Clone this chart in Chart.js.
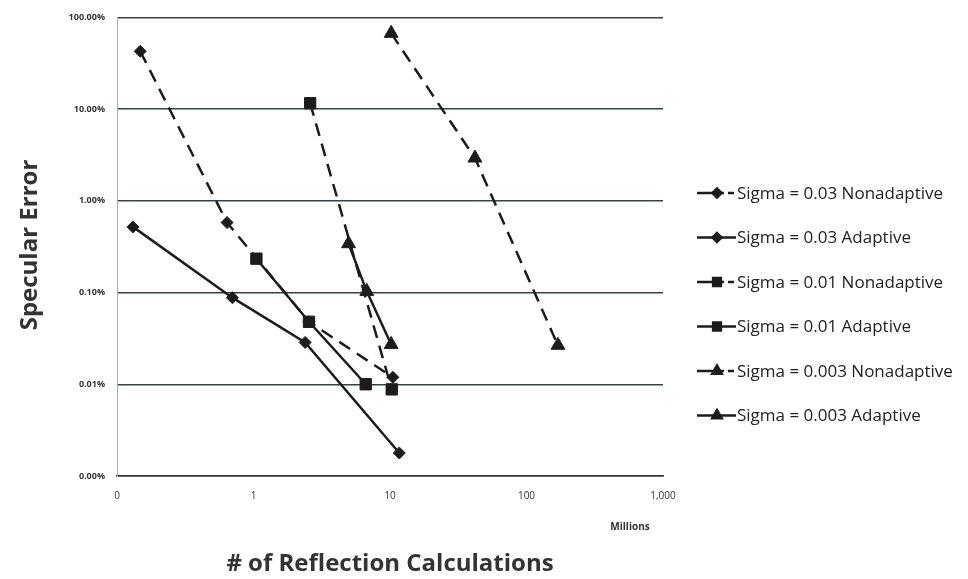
<!DOCTYPE html>
<html>
<head>
<meta charset="utf-8">
<script src="https://cdn.jsdelivr.net/npm/chart.js@4.4.0/dist/chart.umd.min.js"></script>
<style>
  html, body { margin: 0; padding: 0; background: #fff; }
  #wrap { width: 968px; height: 579px; position: relative; }
</style>
</head>
<body>
<div id="wrap"><canvas id="chart" width="968" height="579"></canvas></div>
<script>
// Specular error vs # of reflection calculations (millions), log-log
const seriesNames = [
  'Sigma = 0.03 Nonadaptive',
  'Sigma = 0.03 Adaptive',
  'Sigma = 0.01 Nonadaptive',
  'Sigma = 0.01 Adaptive',
  'Sigma = 0.003 Nonadaptive',
  'Sigma = 0.003 Adaptive'
];

// x in millions, y in percent
const s03NonX = [0.148, 0.64, 2.55, 10.5];
const s03NonY = [42.7, 0.58, 0.048, 0.0119];
const s03AdX = [0.131, 0.70, 2.39, 11.7];
const s03AdY = [0.52, 0.088, 0.0286, 0.00178];
const s01NonX = [2.60, 10.3];
const s01NonY = [11.6, 0.0088];
const s01AdX = [1.05, 2.55, 6.64];
const s01AdY = [0.234, 0.048, 0.0100];
const s003NonX = [10.2, 41.9, 170];
const s003NonY = [67, 2.93, 0.0266];
const s003AdX = [4.97, 6.76, 10.2];
const s003AdY = [0.341, 0.103, 0.0272];

const xTickValues = [0.1, 1, 10, 100, 1000];
const xTickLabels = ['0', '1', '10', '100', '1,000'];
const yTickValues = [0.001, 0.01, 0.1, 1, 10, 100];
const yTickLabels = ['0.00%', '0.01%', '0.10%', '1.00%', '10.00%', '100.00%'];

const ink = '#1c1c1c';
const dashPat = [13, 8];

function pts(xs, ys) {
  return xs.map((x, i) => ({ x: x, y: ys[i] }));
}

function makeSet(idx, xs, ys, style, dashed, radius, order) {
  return {
    label: seriesNames[idx],
    data: pts(xs, ys),
    borderColor: ink,
    backgroundColor: ink,
    borderWidth: 2.5,
    borderDash: dashed ? dashPat : [],
    pointStyle: style,
    pointRadius: radius,
    pointBackgroundColor: ink,
    pointBorderColor: ink,
    pointBorderWidth: 1,
    tension: 0,
    fill: false,
    order: order
  };
}

const datasets = [
  makeSet(0, s03NonX, s03NonY, 'rectRot', true, 6, 1),
  makeSet(1, s03AdX, s03AdY, 'rectRot', false, 6, 1),
  makeSet(2, s01NonX, s01NonY, 'rect', true, 8, 1),
  makeSet(3, s01AdX, s01AdY, 'rect', false, 8, 1),
  makeSet(4, s003NonX, s003NonY, 'triangle', true, 8, 0),
  makeSet(5, s003AdX, s003AdY, 'triangle', false, 8, 0)
];

// texts + legend drawn on the canvas
const extrasPlugin = {
  id: 'extras',
  afterDraw(chart) {
    const ctx = chart.ctx;
    ctx.save();
    ctx.fillStyle = '#333';
    // y title
    ctx.font = 'bold 24px "Open Sans", sans-serif';
    ctx.textAlign = 'center';
    ctx.textBaseline = 'middle';
    ctx.translate(30, 245);
    ctx.rotate(-Math.PI / 2);
    ctx.fillText('Specular Error', 0, 0);
    ctx.restore();

    ctx.save();
    ctx.fillStyle = '#333';
    ctx.textAlign = 'center';
    ctx.textBaseline = 'middle';
    ctx.font = 'bold 24px "Open Sans", sans-serif';
    ctx.fillText('# of Reflection Calculations', 390, 564);
    ctx.font = 'bold 10px "Open Sans", sans-serif';
    ctx.fillText('Millions', 630, 527);

    // legend
    ctx.font = '17px "Open Sans", sans-serif';
    ctx.textAlign = 'left';
    chart.data.datasets.forEach((ds, i) => {
      const y = 193 + i * 44.5;
      ctx.strokeStyle = ink;
      ctx.lineWidth = 2.5;
      ctx.beginPath();
      if (ds.borderDash.length) {
        ctx.moveTo(697, y);
        ctx.lineTo(724, y);
        ctx.moveTo(728, y);
        ctx.lineTo(734, y);
      } else {
        ctx.moveTo(697, y);
        ctx.lineTo(736, y);
      }
      ctx.stroke();
      Chart.helpers.drawPoint(ctx, {
        pointStyle: ds.pointStyle,
        radius: ds.pointStyle === 'rectRot' ? 4.5 : 5.5,
        rotation: 0,
        borderWidth: 1
      }, 717, y);
      ctx.fillStyle = ink;
      ctx.fill();
      ctx.fillStyle = '#222';
      ctx.fillText(ds.label, 737, y + 1);
    });
    ctx.restore();
  }
};

const bgPlugin = {
  id: 'bg',
  beforeDraw(chart) {
    const ctx = chart.ctx;
    ctx.save();
    ctx.fillStyle = '#fff';
    ctx.fillRect(0, 0, chart.width, chart.height);
    ctx.restore();
  }
};

new Chart(document.getElementById('chart'), {
  type: 'line',
  data: { datasets: datasets },
  plugins: [bgPlugin, extrasPlugin],
  options: {
    responsive: false,
    animation: false,
    layout: { padding: { top: 10, right: 305, left: 0, bottom: 0 } },
    plugins: {
      legend: { display: false },
      tooltip: { enabled: false }
    },
    scales: {
      x: {
        type: 'logarithmic',
        min: 0.1,
        max: 1000,
        afterBuildTicks: s => { s.ticks = xTickValues.map(v => ({ value: v })); },
        afterFit: s => { s.height = 103; },
        grid: { display: false, drawTicks: false },
        border: { display: true, color: '#333', width: 1.5 },
        ticks: {
          padding: 14,
          color: '#333',
          font: { family: '"Open Sans", sans-serif', size: 10 },
          maxRotation: 0,
          autoSkip: false,
          callback: v => xTickLabels[xTickValues.indexOf(v)]
        }
      },
      y: {
        type: 'logarithmic',
        min: 0.001,
        max: 100,
        afterBuildTicks: s => { s.ticks = yTickValues.map(v => ({ value: v })); },
        afterFit: s => { s.width = 117; },
        grid: { display: true, color: '#344', lineWidth: 1.4, drawTicks: false },
        border: { display: true, color: '#aaa', width: 1 },
        ticks: {
          padding: 12,
          color: '#333',
          font: { family: '"Open Sans", sans-serif', size: 9, weight: 'bold' },
          autoSkip: false,
          callback: v => yTickLabels[yTickValues.indexOf(v)]
        }
      }
    }
  }
});
</script>
</body>
</html>
